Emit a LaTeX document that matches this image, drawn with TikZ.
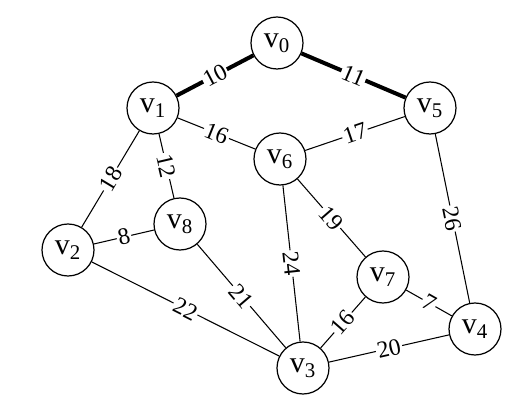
\documentclass[tikz,border=0pt]{standalone}
\usepackage{fontspec}
\setmainfont{Liberation Serif}
\newcommand{\vx}[1]{v\textsubscript{#1}}

\begin{document}
\begin{tikzpicture}[every node/.style={font=\fontsize{13.5}{15}\selectfont},
 vtx/.style={draw,circle,line width=0.7pt,minimum size=1.04cm,inner sep=0pt,
  font=\fontsize{17}{19}\selectfont},
 wt/.style={midway,sloped,fill=white,inner sep=0.8pt},
 edge/.style={line width=0.6pt},
 tree/.style={line width=2.3pt}]
\useasboundingbox (0,0) rectangle (10.48,8);
\node[vtx] (v0) at (5.54,7.14) {\vx{0}};
\node[vtx] (v1) at (3.06,5.84) {\vx{1}};
\node[vtx] (v5) at (8.60,5.84) {\vx{5}};
\node[vtx] (v6) at (5.60,4.82) {\vx{6}};
\node[vtx] (v8) at (3.60,3.52) {\vx{8}};
\node[vtx] (v2) at (1.36,3.00) {\vx{2}};
\node[vtx] (v7) at (7.66,2.46) {\vx{7}};
\node[vtx] (v4) at (9.50,1.42) {\vx{4}};
\node[vtx] (v3) at (6.06,0.64) {\vx{3}};
% spanning tree edges
\draw[tree] (v0) -- node[wt]{10} (v1);
\draw[tree] (v0) -- node[wt]{11} (v5);
% other edges
\draw[edge] (v1) -- node[wt]{16} (v6);
\draw[edge] (v6) -- node[wt]{17} (v5);
\draw[edge] (v1) -- node[wt]{18} (v2);
\draw[edge] (v1) -- node[wt]{12} (v8);
\draw[edge] (v2) -- node[wt]{8} (v8);
\draw[edge] (v2) -- node[wt]{22} (v3);
\draw[edge] (v8) -- node[wt]{21} (v3);
\draw[edge] (v6) -- node[wt]{24} (v3);
\draw[edge] (v6) -- node[wt]{19} (v7);
\draw[edge] (v7) -- node[wt]{16} (v3);
\draw[edge] (v7) -- node[wt]{7} (v4);
\draw[edge] (v3) -- node[wt]{20} (v4);
\draw[edge] (v5) -- node[wt]{26} (v4);
\end{tikzpicture}
\end{document}
